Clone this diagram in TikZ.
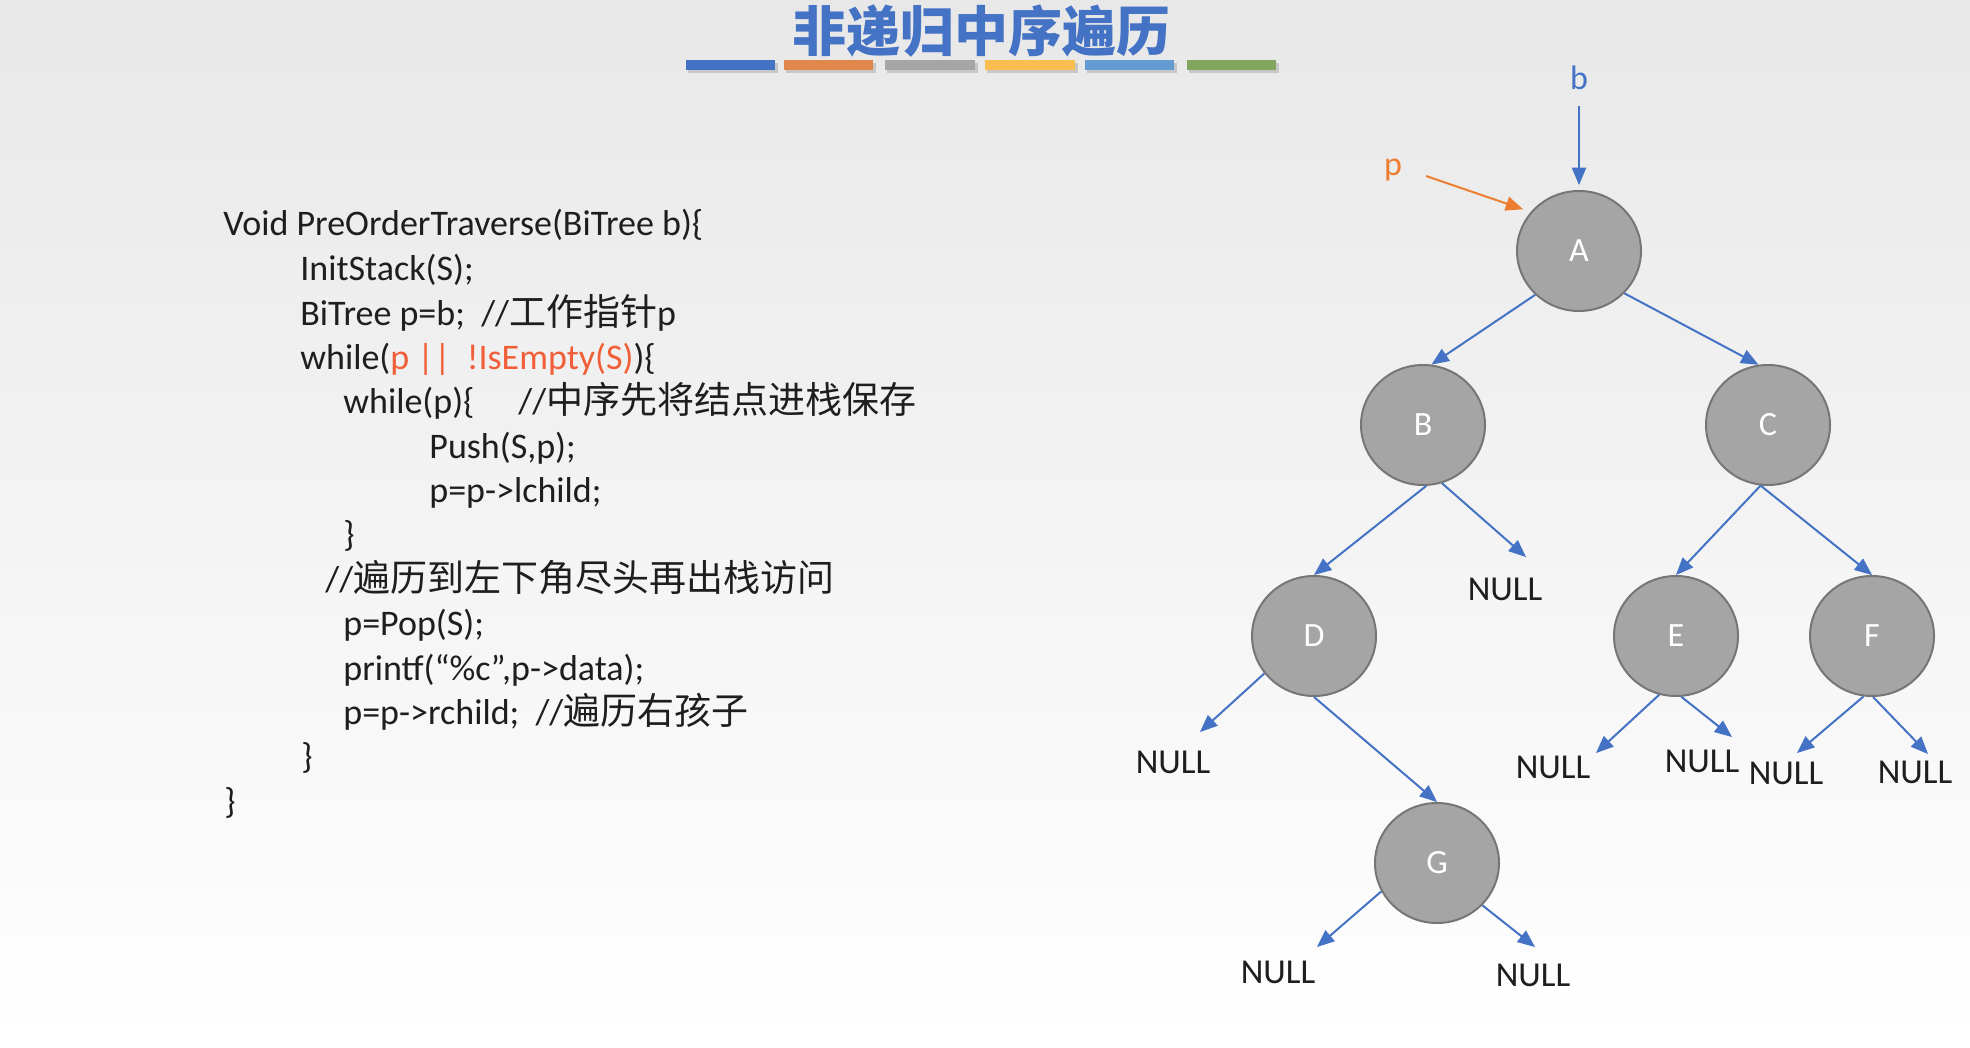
\documentclass[tikz,border=0pt]{standalone}
\usepackage{fontspec}
\setmainfont{Carlito}
\newfontfamily\cjk{Noto Sans CJK SC}
\usetikzlibrary{arrows,shapes.geometric}
\definecolor{edgeblue}{RGB}{68,114,196}
\definecolor{porange}{RGB}{237,125,49}
\definecolor{codered}{RGB}{240,95,55}
\definecolor{codeblack}{RGB}{30,30,30}
\definecolor{nodefill}{RGB}{165,165,165}
\definecolor{nodeline}{RGB}{118,118,118}
\definecolor{bgtop}{RGB}{232,232,232}
\definecolor{barorange}{RGB}{224,135,74}
\definecolor{baryellow}{RGB}{250,190,80}
\definecolor{barblue}{RGB}{100,155,210}
\definecolor{bargreen}{RGB}{130,165,95}
\newcommand{\zh}[1]{{\cjk\fontsize{18.5}{22}\selectfont #1}}
\tikzset{
  treenode/.style = {ellipse, draw=nodeline, fill=nodefill, line width=1pt,
    minimum width=62pt, minimum height=60pt, inner sep=0pt, text=white,
    font=\fontsize{17}{20}\selectfont},% noeud gris
  nullnode/.style = {inner sep=0pt, text=codeblack,
    font=\fontsize{17.5}{20}\selectfont},% feuille vide
  codeline/.style = {anchor=base west, inner sep=0pt, text=codeblack,
    font=\fontsize{18}{20}\selectfont},
  link/.style = {->, >=triangle 45, draw=edgeblue, line width=1pt},
  ptrlabel/.style = {inner sep=0pt, font=\fontsize{17}{20}\selectfont}
}
\begin{document}
\begin{tikzpicture}[x=0.5pt,y=-0.5pt]
\useasboundingbox (0,0) rectangle (1970,1048);
\shade[top color=bgtop, bottom color=white] (0,0) rectangle (1970,1048);
% titre
\node[text=edgeblue, font=\cjk\bfseries\fontsize{27}{30}\selectfont] (title) at (981,31) {非递归中序遍历};
\fill[black, opacity=0.15] (688,63) rectangle (778,73);
\fill[black, opacity=0.15] (786,63) rectangle (876,73);
\fill[black, opacity=0.15] (887,63) rectangle (978,73);
\fill[black, opacity=0.15] (987,63) rectangle (1078,73);
\fill[black, opacity=0.15] (1087,63) rectangle (1177,73);
\fill[black, opacity=0.15] (1189,63) rectangle (1279,73);
\fill[edgeblue] (686,60) rectangle (775,70);
\fill[barorange] (784,60) rectangle (873,70);
\fill[nodefill] (885,60) rectangle (975,70);
\fill[baryellow] (985,60) rectangle (1075,70);
\fill[barblue] (1085,60) rectangle (1174,70);
\fill[bargreen] (1187,60) rectangle (1276,70);
% code
\node[codeline] (c1) at (223,236) {Void PreOrderTraverse(BiTree b)\{};
\node[codeline] (c2) at (300,281) {InitStack(S);};
\node[codeline] (c3) at (300,325) {BiTree p=b;\ \ //\zh{工作指针}p};
\node[codeline] (c4) at (300,369) {while(\textcolor{codered}{p ||\ \ !IsEmpty(S)})\{};
\node[codeline] (c5) at (343,413) {while(p)\{\hspace{22pt}//\zh{中序先将结点进栈保存}};
\node[codeline] (c6) at (429,458) {Push(S,p);};
\node[codeline] (c7) at (429,502) {p=p->lchild;};
\node[codeline] (c8) at (343,546) {\}};
\node[codeline] (c9) at (325,591) {//\zh{遍历到左下角尽头再出栈访问}};
\node[codeline] (c10) at (343,635) {p=Pop(S);};
\node[codeline] (c11) at (343,680) {printf(“\%c”,p->data);};
\node[codeline] (c12) at (343,724) {p=p->rchild;\ \ //\zh{遍历右孩子}};
\node[codeline] (c13) at (301,768) {\}};
\node[codeline] (c14) at (224,813) {\}};
% arbre
\node[treenode] (A) at (1579,251) {A};
\node[treenode] (B) at (1423,425) {B};
\node[treenode] (C) at (1768,425) {C};
\node[treenode] (D) at (1314,636) {D};
\node[treenode] (E) at (1676,636) {E};
\node[treenode] (F) at (1872,636) {F};
\node[treenode] (G) at (1437,863) {G};
\node[nullnode] (nB) at (1505,589) {NULL};
\node[nullnode] (nDl) at (1173,762) {NULL};
\node[nullnode] (nEl) at (1553,767) {NULL};
\node[nullnode] (nEr) at (1702,761) {NULL};
\node[nullnode] (nFl) at (1786,773) {NULL};
\node[nullnode] (nFr) at (1915,772) {NULL};
\node[nullnode] (nGl) at (1278,972) {NULL};
\node[nullnode] (nGr) at (1533,975) {NULL};
% pointeurs
\node[ptrlabel, text=edgeblue] (bl) at (1579,78) {b};
\node[ptrlabel, text=porange] (pl) at (1393,170) {p};
\draw[link, shorten <=8pt, shorten >=2.5pt] (bl) -- (A);
\draw[link, draw=porange, fill=porange, shorten >=4pt] ([shift={(33,6)}]pl.center) -- (A.141);
\draw[link] (A.-135) -- (B.82);
\draw[link] (A.-43) -- (C.99);
\draw[link] (B.-87) -- (D.north);
\draw[link] (B.-72) -- ([shift={(21,-32)}]nB.center);
\draw[link] (C.-97) -- (E.north);
\draw[link] (C.-97) -- (F.north);
\draw[link] (D.-143) -- ([shift={(27,-30)}]nDl.center);
\draw[link] (D.south) -- (G.north);
\draw[link] (E.-106) -- ([shift={(43,-14)}]nEl.center);
\draw[link] (E.-85) -- ([shift={(30,-24)}]nEr.center);
\draw[link] (F.-98) -- ([shift={(11,-20)}]nFl.center);
\draw[link] (F.-89) -- ([shift={(13,-18)}]nFr.center);
\draw[link] (G.-153) -- ([shift={(39,-25)}]nGl.center);
\draw[link] (G.-43) -- ([shift={(2,-28)}]nGr.center);
\end{tikzpicture}
\end{document}
